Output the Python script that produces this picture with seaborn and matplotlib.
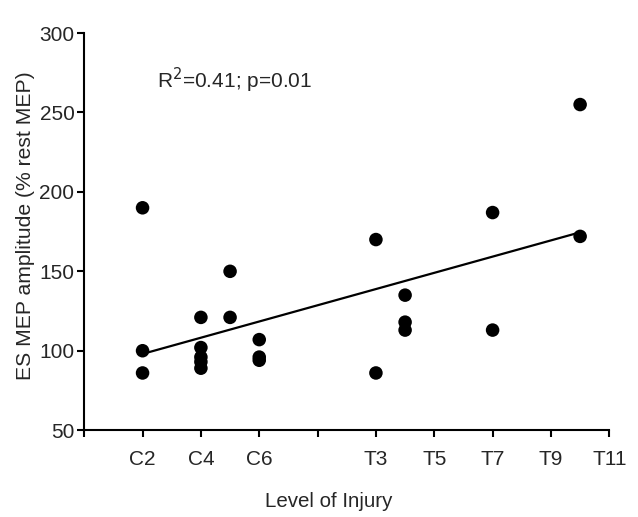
import numpy as np
import pandas as pd
import matplotlib
matplotlib.use("Agg")
import matplotlib.pyplot as plt
import seaborn as sns

# Injury level coded as vertebral number (C1..C7 = 1..7, T1 = 8, ...)
level = [2, 2, 2,
         4, 4, 4, 4, 4,
         5, 5,
         6, 6, 6,
         10, 10,
         11, 11, 11,
         14, 14,
         17, 17]
amplitude = [190, 100, 86,
             121, 102, 96, 93, 89,
             150, 121,
             107, 96, 94,
             170, 86,
             135, 118, 113,
             187, 113,
             255, 172]

tick_pos = [0, 2, 4, 6, 8, 10, 12, 14, 16, 18]
tick_labels = ["", "C2", "C4", "C6", "", "T3", "T5", "T7", "T9", "T11"]

df = pd.DataFrame({"level": level, "amp": amplitude})

sns.set_style("ticks")
plt.rcParams['font.family'] = ['Liberation Sans', 'DejaVu Sans']

fig = plt.figure(figsize=(6.38, 5.17), dpi=100)
ax = fig.add_axes([0.132, 0.168, 0.823, 0.768])

sns.scatterplot(x="level", y="amp", data=df, color="black", s=95,
                edgecolor="none", ax=ax, zorder=3)
sns.regplot(x="level", y="amp", data=df, scatter=False, ci=None,
            truncate=True, color="black", line_kws={"linewidth": 1.6}, ax=ax)

ax.set_xlim(0, 18)
ax.set_ylim(50, 300)
ax.set_xticks(tick_pos)
ax.set_xticklabels(tick_labels)
ax.set_yticks([50, 100, 150, 200, 250, 300])

ax.set_xlabel("Level of Injury", fontsize=14.8)
ax.set_ylabel("ES MEP amplitude (% rest MEP)", fontsize=15.2)
ax.xaxis.set_label_coords(0.466, -0.157)
ax.yaxis.set_label_coords(-0.094, 0.516)
ax.tick_params(axis="x", labelsize=15, length=5, width=1.5, pad=9, color="black")
ax.tick_params(axis="y", labelsize=15, length=5, width=1.5, pad=2, color="black")

for side in ["left", "bottom"]:
    ax.spines[side].set_linewidth(1.5)
    ax.spines[side].set_color("black")
sns.despine(ax=ax)

ax.text(2.5, 270.5, r"R$^2$=0.41; p=0.01", fontsize=15, va="center", ha="left")

fig.savefig("out.png", dpi=100)
